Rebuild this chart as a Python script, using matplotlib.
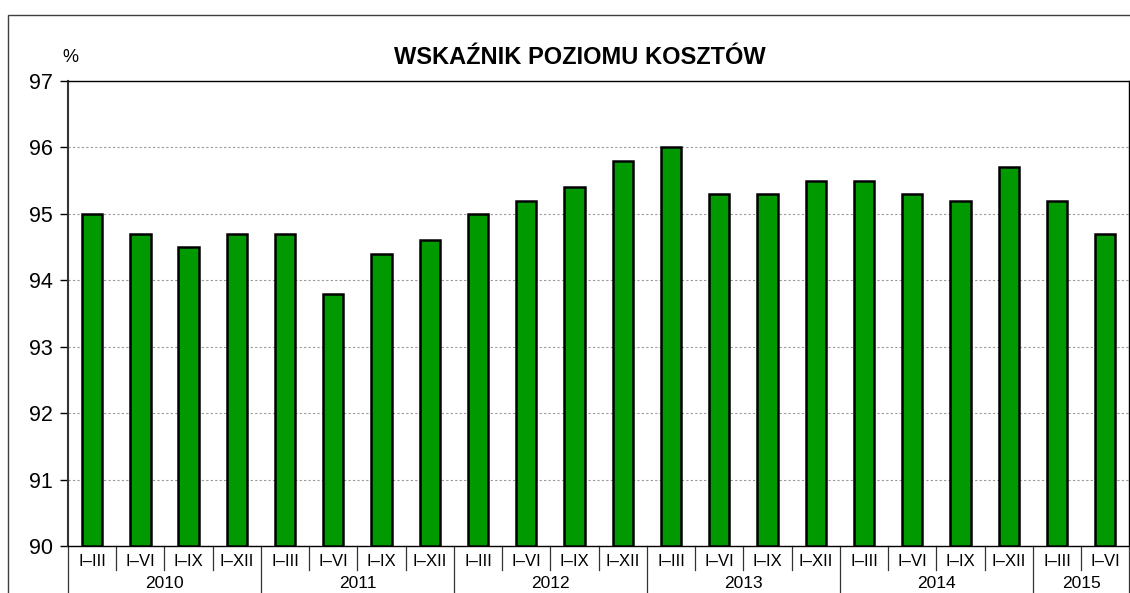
import matplotlib.pyplot as plt
import matplotlib.transforms as mtransforms
from matplotlib.patches import Rectangle
import numpy as np

plt.rcParams['font.family'] = ['Liberation Sans', 'DejaVu Sans']

# Cost level indicator, cumulative quarters
periods = ['I–III', 'I–VI', 'I–IX', 'I–XII'] * 5 + ['I–III', 'I–VI']
years = ['2010', '2011', '2012', '2013', '2014', '2015']
year_counts = [4, 4, 4, 4, 4, 2]
values = [95.0, 94.7, 94.5, 94.7,
          94.7, 93.8, 94.4, 94.6,
          95.0, 95.2, 95.4, 95.8,
          96.0, 95.3, 95.3, 95.5,
          95.5, 95.3, 95.2, 95.7,
          95.2, 94.7]

x = np.arange(len(values))

fig = plt.figure(figsize=(11.30, 5.93), dpi=100)
ax = fig.add_axes([68 / 1130, 1 - 546 / 593, 1 - 68 / 1130 - 0.0005, (546 - 81) / 593])

# outer frame of the chart
fig.patches.append(Rectangle((8 / 1130, -0.1), 1.2, 1 - 15 / 593 + 0.1,
                             transform=fig.transFigure, fill=False,
                             edgecolor='#404040', linewidth=1.0))

ax.bar(x, [v - 90 for v in values], width=0.42, bottom=90,
       color='#009900', edgecolor='black', linewidth=1.8, zorder=3)

ax.set_xlim(-0.5, len(values) - 0.5)
ax.set_ylim(90, 97)
ax.set_yticks(range(90, 98))
ax.tick_params(axis='y', labelsize=15.5, length=6, width=1.0, pad=5)
ax.yaxis.grid(True, linestyle=(0, (2, 2)), color='#999999', linewidth=0.8)
ax.set_axisbelow(True)
ax.set_xticks([])

for s in ax.spines.values():
    s.set_linewidth(1.0)
    s.set_color('black')
ax.spines['left'].set_color('#333333')
ax.spines['left'].set_linewidth(1.5)

trans = mtransforms.blended_transform_factory(ax.transData, ax.transAxes)
ax_h = (546 - 81)

# period labels and separators
for i, p in enumerate(periods):
    ax.text(i, -15 / ax_h, p, transform=trans, ha='center', va='center',
            fontsize=12)
year_bounds = np.cumsum([0] + year_counts) - 0.5
for b in np.arange(len(values) + 1) - 0.5:
    if b in year_bounds:
        continue
    ax.plot([b, b], [0, -24 / ax_h], transform=trans, color='#333333',
            linewidth=0.9, clip_on=False)
for b in year_bounds:
    ax.plot([b, b], [0, -60 / ax_h], transform=trans, color='#333333',
            linewidth=0.9, clip_on=False)

# year labels
start = 0
for y, n in zip(years, year_counts):
    ax.text(start + (n - 1) / 2, -37 / ax_h, y, transform=trans,
            ha='center', va='center', fontsize=12.5)
    start += n

fig.text(580 / 1130, 1 - 58 / 593, 'WSKAŹNIK POZIOMU KOSZTÓW',
         ha='center', va='center', fontsize=17, fontweight='bold')
fig.text(62 / 1130, 1 - 58 / 593, '%', ha='left', va='center', fontsize=13)

fig.savefig('out.png', dpi=100)
